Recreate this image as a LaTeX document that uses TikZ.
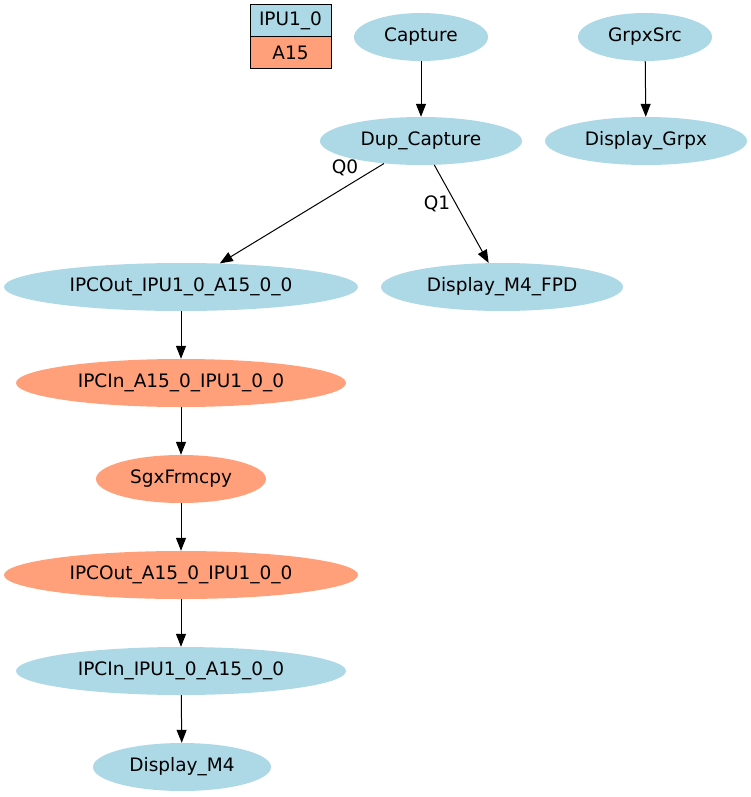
\documentclass[tikz,border=0pt]{standalone}
\usepackage{fontspec}
\setmainfont{DejaVu Sans}
\usetikzlibrary{shapes.geometric,arrows.meta}
\definecolor{lblue}{RGB}{173,216,230}
\definecolor{lsalmon}{RGB}{255,160,122}
\begin{document}
\begin{tikzpicture}[x=1pt,y=-1pt,
  every node/.style={font=\fontsize{18.5}{22}\selectfont},
  gnode/.style={ellipse,inner sep=0pt,minimum height=48pt,draw=none},
  bnode/.style={gnode,fill=lblue},
  snode/.style={gnode,fill=lsalmon},
  legbox/.style={rectangle,draw=black,line width=1pt,minimum width=81pt,minimum height=32pt,inner sep=0pt},
  edge/.style={draw=black,line width=1pt,-{Triangle[length=13pt,width=10pt]}}]
\useasboundingbox (0,0) rectangle (751,797);
\node[legbox,fill=lblue] (legA) at (290.5,21) {IPU1\_0};
\node[legbox,fill=lsalmon] (legB) at (290.5,53) {A15};
\node[bnode,minimum width=134pt] (cap) at (421,37) {Capture};
\node[bnode,minimum width=202pt] (dup) at (421,141) {Dup\_Capture};
\node[bnode,minimum width=134pt] (grpx) at (645,37) {GrpxSrc};
\node[bnode,minimum width=202pt] (dgrpx) at (646,141) {Display\_Grpx};
\node[bnode,minimum width=354pt] (ipcout1) at (181,287) {IPCOut\_IPU1\_0\_A15\_0\_0};
\node[bnode,minimum width=242pt] (fpd) at (502,287) {Display\_M4\_FPD};
\node[snode,minimum width=330pt] (ipcin1) at (181,383) {IPCIn\_A15\_0\_IPU1\_0\_0};
\node[snode,minimum width=170pt] (sgx) at (181,479) {SgxFrmcpy};
\node[snode,minimum width=354pt] (ipcout2) at (181,575) {IPCOut\_A15\_0\_IPU1\_0\_0};
\node[bnode,minimum width=330pt] (ipcin2) at (181,671) {IPCIn\_IPU1\_0\_A15\_0\_0};
\node[bnode,minimum width=178pt] (dm4) at (182,767) {Display\_M4};
\draw[edge] (cap) -- (dup);
\draw[edge] (grpx) -- (dgrpx);
\draw[edge] (dup) -- (ipcout1);
\draw[edge] (dup) -- (fpd);
\draw[edge] (ipcout1) -- (ipcin1);
\draw[edge] (ipcin1) -- (sgx);
\draw[edge] (sgx) -- (ipcout2);
\draw[edge] (ipcout2) -- (ipcin2);
\draw[edge] (ipcin2) -- (dm4);
\node (q0) at (345,168) {Q0};
\node (q1) at (437,204) {Q1};
\end{tikzpicture}
\end{document}
